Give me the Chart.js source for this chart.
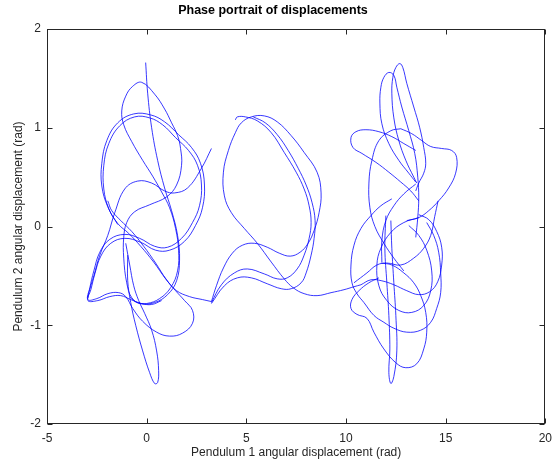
<!DOCTYPE html>
<html>
<head>
<meta charset="utf-8">
<script src="https://cdn.jsdelivr.net/npm/chart.js@4/dist/chart.umd.min.js"></script>
<style>
  html, body { margin: 0; padding: 0; background: #ffffff; }
  #wrap { width: 559px; height: 462px; }
</style>
</head>
<body>
<div id="wrap"><canvas id="c" width="559" height="462"></canvas></div>
<script>
// Axis ranges and tick values
const xTicks = [-5, 0, 5, 10, 15, 20];
const yTicks = [-2, -1, 0, 1, 2];

// Trajectory pieces: [theta1, theta2] in radians
// Around theta1 = 0
const startSweep = [[-0.05,1.66],[0.05,1.35],[0.25,1.00],[0.55,0.67],[0.90,0.39],[1.25,0.16],[1.55,-0.09],[1.65,-0.34],[1.50,-0.55],[1.05,-0.69],[0.40,-0.77],[-0.30,-0.78],[-0.75,-0.72],[-1.00,-0.57],[-1.15,-0.32],[-1.15,-0.11],[-1.00,0.04],[-0.60,0.15],[0.15,0.22],[1.00,0.30],[1.50,0.42],[1.75,0.62],[1.70,0.79],[1.55,0.92],[1.25,1.05],[0.90,1.19],[0.40,1.34],[-0.25,1.46],[-0.70,1.42],[-1.05,1.32],[-1.25,1.17],[-1.15,1.03],[-0.75,0.86],[-0.20,0.67],[0.30,0.51],[0.75,0.35],[1.15,0.19],[1.45,-0.02],[1.60,-0.24],[1.55,-0.45],[1.20,-0.62],[0.65,-0.73],[0.00,-0.78],[-0.50,-0.77],[-0.85,-0.71]];
const tailLoop = [[-0.95,-0.29],[-0.95,-0.55],[-0.80,-0.77],[-0.55,-1.00],[-0.20,-1.26],[0.15,-1.48],[0.40,-1.59],[0.55,-1.58],[0.60,-1.46],[0.50,-1.26],[0.25,-1.05],[-0.10,-0.88],[-0.40,-0.75],[-0.65,-0.60],[-0.85,-0.39],[-1.05,-0.17]];
const doubleLoop = [[-1.45,0.02],[-1.90,0.18],[-2.15,0.38],[-2.15,0.62],[-1.90,0.84],[-1.35,1.02],[-0.60,1.11],[0.15,1.10],[0.80,1.03],[1.45,0.90],[2.10,0.77],[2.55,0.62],[2.75,0.42],[2.65,0.21],[2.30,0.04],[1.75,-0.12],[1.05,-0.21],[0.40,-0.20],[-0.35,-0.12],[-1.10,-0.08],[-1.85,-0.13],[-2.35,-0.26],[-2.65,-0.45],[-2.85,-0.62],[-2.95,-0.74],[-2.50,-0.73],[-1.95,-0.68],[-1.40,-0.67],[-1.05,-0.71],[-0.70,-0.83],[-0.20,-0.96],[0.50,-1.07],[1.15,-1.11],[1.80,-1.08],[2.30,-0.98],[2.30,-0.85],[1.90,-0.75],[1.45,-0.65],[0.95,-0.53],[0.35,-0.36],[-0.30,-0.20],[-0.90,-0.07],[-1.45,0.03],[-1.95,0.20],[-2.25,0.41],[-2.25,0.64],[-2.00,0.87],[-1.45,1.05],[-0.65,1.14],[0.20,1.13],[0.90,1.06],[1.60,0.93],[2.25,0.80],[2.70,0.64],[2.90,0.42],[2.80,0.19],[2.45,0.01],[1.90,-0.15],[1.15,-0.24],[0.45,-0.24],[-0.30,-0.16],[-1.10,-0.12],[-1.80,-0.17],[-2.30,-0.30],[-2.60,-0.48],[-2.80,-0.64],[-2.95,-0.75],[-2.45,-0.75],[-1.85,-0.71],[-1.30,-0.70],[-0.80,-0.74],[-0.25,-0.78],[0.25,-0.79],[0.75,-0.75]];
const exitPath = [[-1.95,0.26],[-1.75,0.16],[-1.30,0.06],[-0.75,-0.05],[-0.15,-0.20],[0.45,-0.37],[1.00,-0.54],[1.50,-0.65],[2.15,-0.71],[2.80,-0.74],[3.25,-0.76]];
const finalHump = [[3.25,0.79],[2.75,0.59],[2.05,0.39],[1.40,0.34],[0.90,0.36],[0.25,0.44],[-0.45,0.46],[-1.10,0.38],[-1.60,0.14],[-1.95,-0.09],[-2.35,-0.29],[-2.65,-0.50],[-2.90,-0.67],[-2.95,-0.73]];

// Around theta1 = 2*pi
const midOuter = [[3.25,-0.76],[3.50,-0.60],[3.85,-0.42],[4.30,-0.27],[4.80,-0.19],[5.40,-0.17],[6.05,-0.21],[6.65,-0.27],[7.20,-0.30],[7.70,-0.26],[8.10,-0.17],[8.40,-0.04],[8.65,0.14],[8.75,0.34],[8.55,0.55],[7.90,0.75],[7.25,0.92],[6.55,1.06],[5.90,1.12],[5.25,1.11],[4.75,1.05],[4.45,0.95],[4.10,0.77],[3.85,0.55],[3.90,0.31],[4.25,0.14],[4.90,-0.02],[5.55,-0.17],[6.25,-0.36],[6.90,-0.53],[7.35,-0.62],[7.90,-0.68],[8.55,-0.70],[9.25,-0.67],[9.90,-0.64],[10.40,-0.61],[10.75,-0.59]];
const midInnerA = [[3.25,-0.77],[3.75,-0.59],[4.40,-0.47],[5.05,-0.43],[5.90,-0.48],[6.55,-0.53],[7.05,-0.52],[7.55,-0.43],[7.90,-0.29],[8.15,-0.12],[8.25,0.04],[8.15,0.21],[7.90,0.38],[7.50,0.55],[6.90,0.75],[6.25,0.95],[5.55,1.07],[4.95,1.11],[4.55,1.11],[4.45,1.08]];
const midInnerB = [[3.25,-0.78],[3.90,-0.60],[4.55,-0.52],[5.25,-0.52],[6.05,-0.58],[6.75,-0.63],[7.25,-0.63],[7.75,-0.57],[8.00,-0.47],[8.25,-0.29],[8.40,-0.12],[8.45,0.06],[8.30,0.24],[8.00,0.42],[7.60,0.59],[7.10,0.77],[6.55,0.93],[5.95,1.05],[5.35,1.11]];

// Around theta1 = 4*pi
const rightEntry = [[10.75,-0.59],[11.25,-0.54],[11.80,-0.55],[12.40,-0.59],[13.05,-0.65],[13.65,-0.69],[14.20,-0.66],[14.60,-0.56],[14.80,-0.39],[14.80,-0.21],[14.55,-0.05],[14.15,0.07],[13.65,0.12]];
const rightLowerLoop = [[14.05,0.04],[14.40,-0.09],[14.65,-0.26],[14.75,-0.47],[14.75,-0.67],[14.55,-0.83],[14.25,-0.97],[13.75,-1.05],[13.05,-1.07],[12.40,-1.03],[11.90,-0.97],[11.40,-0.90],[10.90,-0.77],[10.55,-0.68],[10.30,-0.57],[10.25,-0.39],[10.40,-0.19],[10.75,-0.02],[11.25,0.11],[11.75,0.21],[12.30,0.28]];
const rightBottomLoop = [[11.75,-0.37],[12.30,-0.39],[12.90,-0.47],[13.40,-0.57],[13.75,-0.70],[14.00,-0.87],[14.05,-1.07],[13.90,-1.24],[13.55,-1.39],[13.00,-1.43],[12.50,-1.38],[11.90,-1.24],[11.40,-1.07],[11.05,-0.93],[10.55,-0.89],[10.25,-0.83],[10.30,-0.74],[10.65,-0.65],[11.15,-0.57],[11.65,-0.52]];
const rightNarrow = [[12.00,0.11],[11.95,-0.22],[12.05,-0.57],[12.15,-0.90],[12.20,-1.24],[12.15,-1.48],[12.25,-1.59],[12.40,-1.52],[12.55,-1.26],[12.50,-0.90],[12.40,-0.57],[12.30,-0.22],[12.25,0.06]];
const rightWave = [[10.40,-0.57],[11.05,-0.47],[11.55,-0.39],[12.05,-0.37],[12.75,-0.39],[13.40,-0.32],[13.90,-0.22],[14.25,-0.09],[14.45,0.10],[14.62,0.26]];
const rightTallA = [[13.55,0.44],[13.40,0.50],[13.00,0.67],[12.65,0.87],[12.40,1.10],[12.30,1.35],[12.35,1.51],[12.50,1.61],[12.70,1.65],[12.85,1.61],[13.05,1.45],[13.40,1.21],[13.70,1.00],[13.90,0.80],[14.00,0.64],[13.90,0.54],[13.65,0.44],[13.50,0.36]];
const rightTallB = [[13.50,0.45],[13.15,0.54],[12.65,0.67],[12.15,0.84],[11.80,1.04],[11.70,1.25],[11.75,1.41],[11.90,1.51],[12.15,1.56],[12.40,1.53],[12.55,1.41],[12.80,1.21],[13.15,0.97],[13.45,0.74],[13.60,0.50],[13.65,0.29],[13.60,0.09],[13.50,-0.11]];
const rightLeftLobe = [[13.50,0.77],[12.90,0.84],[12.30,0.91],[11.65,0.96],[11.00,0.98],[10.50,0.96],[10.25,0.90],[10.35,0.80],[10.80,0.74],[11.50,0.65],[12.15,0.55],[12.75,0.45],[13.25,0.36],[13.65,0.26]];
const rightRightLobe = [[12.75,0.99],[13.30,0.94],[13.80,0.87],[14.25,0.81],[14.80,0.79],[15.30,0.77],[15.55,0.70],[15.50,0.54],[15.15,0.39],[14.65,0.26],[14.15,0.16],[13.65,0.09],[13.05,0.06]];
const rightArc = [[12.75,0.99],[12.25,0.97],[11.65,0.87],[11.30,0.67],[11.15,0.44],[11.20,0.19],[11.45,0.00],[11.90,-0.17],[12.40,-0.32],[12.90,-0.45]];
const rightLink = [[13.50,0.43],[12.90,0.33],[12.40,0.21],[12.00,0.06],[11.80,-0.14],[11.80,-0.36]];
const rightMiddleLoop = [[13.65,0.09],[12.90,0.04],[12.25,-0.06],[11.75,-0.22],[11.55,-0.39],[11.65,-0.60],[12.05,-0.75],[12.65,-0.85],[13.30,-0.87],[13.90,-0.80],[14.25,-0.65],[14.30,-0.45],[14.05,-0.24],[13.65,-0.09],[13.15,0.01]];

const pieces = [
  startSweep, tailLoop, doubleLoop, exitPath, finalHump,
  midOuter, midInnerA, midInnerB,
  rightEntry, rightLowerLoop, rightBottomLoop, rightNarrow, rightWave,
  rightTallA, rightTallB, rightLeftLobe, rightRightLobe, rightArc, rightLink, rightMiddleLoop
];

const LINE = 'rgba(0, 0, 255, 0.78)';
const INK = '#262626';
const FONT = '"Liberation Sans", Arial, Helvetica, sans-serif';

const datasets = pieces.map(p => ({
  data: p.map(([x, y]) => ({ x, y })),
  showLine: true,
  borderColor: LINE,
  borderWidth: 1,
  pointRadius: 0,
  pointHoverRadius: 0,
  tension: 0.4,
  fill: false
}));

// Box frame with inward tick marks on all four sides
const frame = {
  id: 'frame',
  afterDraw(chart) {
    const { ctx, chartArea: a, scales: { x, y } } = chart;
    const L = Math.round(a.left) + 0.5, R = Math.round(a.right) - 0.5;
    const T = Math.round(a.top) + 0.5, B = Math.round(a.bottom) - 0.5;
    ctx.save();
    ctx.strokeStyle = INK;
    ctx.lineWidth = 1;
    ctx.strokeRect(L, T, R - L, B - T);
    ctx.beginPath();
    xTicks.forEach(v => {
      const px = Math.round(x.getPixelForValue(v)) + 0.5;
      ctx.moveTo(px, B); ctx.lineTo(px, B - 5);
      ctx.moveTo(px, T); ctx.lineTo(px, T + 5);
    });
    yTicks.forEach(v => {
      const py = Math.round(y.getPixelForValue(v)) + 0.5;
      ctx.moveTo(L, py); ctx.lineTo(L + 5, py);
      ctx.moveTo(R, py); ctx.lineTo(R - 5, py);
    });
    ctx.stroke();
    ctx.restore();
  }
};

new Chart(document.getElementById('c'), {
  type: 'scatter',
  data: { datasets },
  plugins: [frame],
  options: {
    responsive: false,
    animation: false,
    events: [],
    layout: { padding: { top: 0, right: 13, bottom: 0, left: 0 } },
    plugins: {
      legend: { display: false },
      tooltip: { enabled: false },
      title: {
        display: true,
        text: 'Phase portrait of displacements',
        color: '#000000',
        font: { family: FONT, size: 12.5, weight: 'bold', lineHeight: 1.2 },
        padding: { top: 3, bottom: 11 }
      }
    },
    scales: {
      x: {
        type: 'linear',
        min: xTicks[0], max: xTicks[xTicks.length - 1],
        afterBuildTicks: s => { s.ticks = xTicks.map(v => ({ value: v })); },
        afterFit: s => { s.height = 38; },
        grid: { display: false, drawTicks: false },
        border: { display: false },
        ticks: { color: INK, font: { family: FONT, size: 12 }, padding: 7, maxRotation: 0 },
        title: {
          display: true,
          text: 'Pendulum 1 angular displacement (rad)',
          color: INK,
          font: { family: FONT, size: 12, lineHeight: 1.2 },
          padding: { top: 0, bottom: 2 }
        }
      },
      y: {
        type: 'linear',
        min: yTicks[0], max: yTicks[yTicks.length - 1],
        afterBuildTicks: s => { s.ticks = yTicks.map(v => ({ value: v })); },
        afterFit: s => { s.width = 47; },
        grid: { display: false, drawTicks: false },
        border: { display: false },
        ticks: { color: INK, font: { family: FONT, size: 12 }, padding: 6 },
        title: {
          display: true,
          text: 'Pendulum 2 angular displacement (rad)',
          color: INK,
          font: { family: FONT, size: 12, lineHeight: 1.2 },
          padding: { top: 11, bottom: 0 }
        }
      }
    }
  }
});
</script>
</body>
</html>
